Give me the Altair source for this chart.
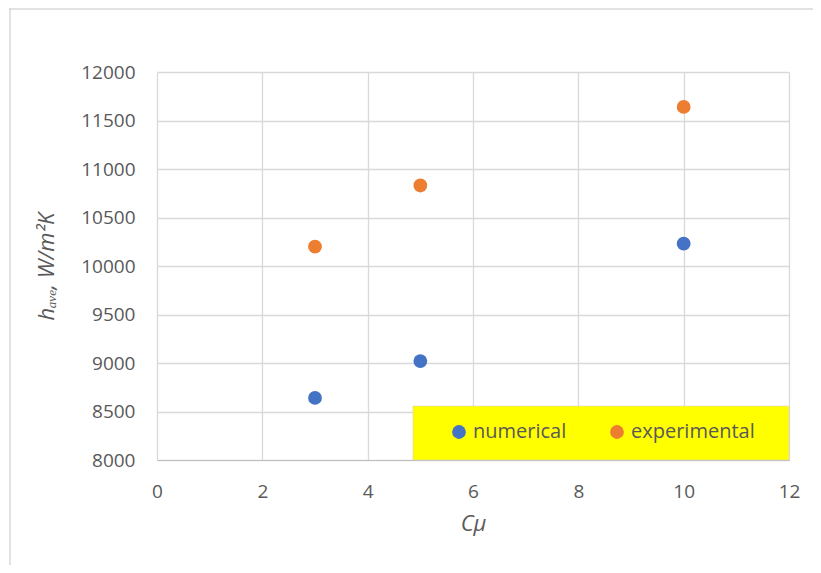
import altair as alt
import pandas as pd

cmu = [3, 5, 10]
numerical = [8640, 9020, 10230]
experimental = [10200, 10830, 11640]
series_names = ["numerical", "experimental"]
series_colors = ["#4472C4", "#ED7D31"]
x_ticks = [0, 2, 4, 6, 8, 10, 12]
y_ticks = [8000, 8500, 9000, 9500, 10000, 10500, 11000, 11500, 12000]
legend_box_x = [4.86, 12]
legend_box_y = [8000, 8557]

df = pd.DataFrame({
    "Cmu": cmu * 2,
    "h": numerical + experimental,
    "series": ["numerical"] * 3 + ["experimental"] * 3,
})
box = pd.DataFrame({"x": [legend_box_x[0]], "x2": [legend_box_x[1]],
                    "y": [legend_box_y[0]], "y2": [legend_box_y[1]]})

FONT = "Open Sans"
GREY = "#595959"

xs = alt.Scale(domain=[0, 12], nice=False)
ys = alt.Scale(domain=[8000, 12000], nice=False, zero=False)

frame = alt.Chart(pd.DataFrame({"a": [0]})).mark_rule(color="#d9d9d9", strokeWidth=1.5).encode(
    x=alt.value(-147), x2=alt.value(-147), y=alt.value(-64), y2=alt.value(500)
)
frame_top = alt.Chart(pd.DataFrame({"a": [0]})).mark_rule(color="#d9d9d9", strokeWidth=1.5).encode(
    x=alt.value(-148), x2=alt.value(680), y=alt.value(-63), y2=alt.value(-63)
)

points = alt.Chart(df).mark_circle(size=190, opacity=1).encode(
    x=alt.X("Cmu:Q", scale=xs,
            axis=alt.Axis(values=x_ticks, title="Cμ", format="d", labelPadding=22,
                          labelFlush=False, titlePadding=12, grid=True)),
    y=alt.Y("h:Q", scale=ys,
            axis=alt.Axis(values=y_ticks, title="hₐᵥₑ, W/m²K", format="d", labelPadding=22,
                          labelFlush=False, titlePadding=22, grid=True)),
    color=alt.Color("series:N", scale=alt.Scale(domain=series_names, range=series_colors),
                    legend=alt.Legend(title=None, orient="none", direction="horizontal",
                                      legendX=292, legendY=350,
                                      labelFontSize=20, labelColor=GREY, labelFont=FONT,
                                      symbolType="circle", symbolSize=190, symbolOpacity=1,
                                      columnPadding=40, labelOffset=4)),
)

legend_bg = alt.Chart(box).mark_rect(color="#FFFF00", stroke="#d0d0d0", strokeWidth=0.5).encode(
    x=alt.X("x:Q", scale=xs), x2="x2", y=alt.Y("y:Q", scale=ys), y2="y2"
)

chart = alt.layer(frame, frame_top, legend_bg, points).properties(
    width=632, height=388,
    autosize=alt.AutoSizeParams(type="none"),
    padding={"left": 149, "top": 64, "right": 24, "bottom": 105},
).configure_view(stroke=None).configure_axis(
    labelFont=FONT, titleFont=FONT, labelFontSize=19, labelColor=GREY,
    titleFontSize=22, titleFontStyle="italic", titleFontWeight="normal", titleColor=GREY,
    gridColor="#d9d9d9", gridWidth=1.3, domainColor="#d9d9d9", domain=True,
    ticks=False,
).configure_axisY(domain=False).configure_axisX(domainColor="#bfbfbf")

chart.save("out.html", embed_options={"renderer": "svg", "actions": False})
